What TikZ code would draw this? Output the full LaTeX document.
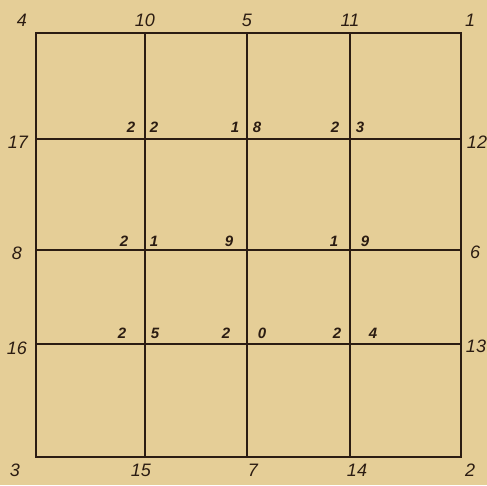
\documentclass[tikz,border=0pt]{standalone}
\usepackage{fontspec}
\setsansfont{Liberation Sans}
\usepackage{xcolor}
\usetikzlibrary{positioning}
\definecolor{paper}{HTML}{E5CE97}
\definecolor{ink}{HTML}{2B1C12}
\tikzset{
  frame/.style = {draw=ink, line width=2.8pt, line cap=round},
  rule/.style  = {draw=ink, line width=2pt},
  num/.style   = {text=ink, font=\fontsize{18}{18}\selectfont\sffamily\itshape, inner sep=0pt},
  val/.style   = {text=ink, font=\fontsize{15}{15}\selectfont\sffamily\bfseries\itshape, inner sep=0pt}
}

\begin{document}
\begin{tikzpicture}[x=1pt, y=-1pt]

% ---------- paper ----------
\fill[paper] (0,0) rectangle (487,485);
\useasboundingbox (0,0) rectangle (487,485);

% ---------- grid corners ----------
\coordinate (tl) at (36,33);
\coordinate (tr) at (461,33);
\coordinate (br) at (461,457);
\coordinate (bl) at (36,457);

% column and row positions
\def\ca{145}
\def\cb{247}
\def\cc{350}
\def\ra{139}
\def\rb{250}
\def\rc{344}

\foreach \c [count=\i] in {\ca,\cb,\cc} {
  \coordinate (t\i) at (\c,33);
  \coordinate (b\i) at (\c,457);
  \draw[rule] (t\i) -- (b\i);
}
\foreach \r [count=\i] in {\ra,\rb,\rc} {
  \coordinate (l\i) at (36,\r);
  \coordinate (r\i) at (461,\r);
  \draw[rule] (l\i) -- (r\i);
}
\draw[frame] (tl) -- (tr) -- (br) -- (bl) -- cycle;

% ---------- numbers round the edge ----------
\node[num] (n4)  at (22,20) {4};
\node[num] (n10) at (145,20) {10};
\node[num] (n5)  at (247,20) {5};
\node[num] (n11) at (350,20) {11};
\node[num] (n1)  at (470,20) {1};

\node[num] (n17) at (18,142) {17};
\node[num] (n8)  at (17,253) {8};
\node[num] (n16) at (17,348) {16};

\node[num] (n12) at (477,142) {12};
\node[num] (n6)  at (475,252) {6};
\node[num] (n13) at (476,346) {13};

\node[num] (n3)  at (15,470) {3};
\node[num] (n15) at (141,470) {15};
\node[num] (n7)  at (253,470) {7};
\node[num] (n14) at (357,470) {14};
\node[num] (n2)  at (470,470) {2};

% ---------- numbers at the crossings ----------
% row 1
\node[val] (v22a) at (131,127) {2};
\node[val] (v22b) at (154,127) {2};
\node[val] (v18a) at (235,127) {1};
\node[val] (v18b) at (257,127) {8};
\node[val] (v23a) at (335,127) {2};
\node[val] (v23b) at (360,127) {3};
% row 2
\node[val] (v21a) at (124,241) {2};
\node[val] (v21b) at (154,241) {1};
\node[val] (v9)   at (229,241) {9};
\node[val] (v19a) at (334,241) {1};
\node[val] (v19b) at (365,241) {9};
% row 3
\node[val] (v25a) at (122,333) {2};
\node[val] (v25b) at (155,333) {5};
\node[val] (v20a) at (226,333) {2};
\node[val] (v20b) at (262,333) {0};
\node[val] (v24a) at (337,333) {2};
\node[val] (v24b) at (373,333) {4};

\end{tikzpicture}
\end{document}
